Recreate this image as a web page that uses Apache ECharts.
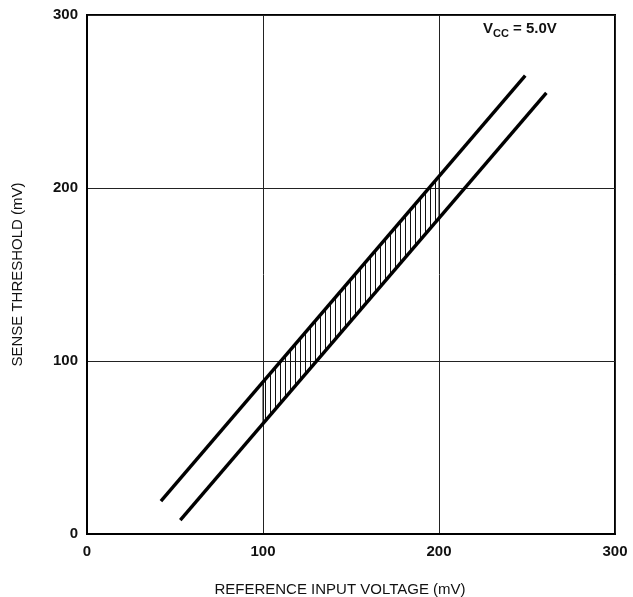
<!DOCTYPE html>
<html>
<head>
<meta charset="utf-8">
<script src="https://cdn.jsdelivr.net/npm/echarts@6/dist/echarts.min.js"></script>
<style>html,body{margin:0;padding:0;background:#fff}#c{width:633px;height:597px}</style>
</head>
<body>
<div id="c"></div>
<script>
// Data
const xTicks = [0, 100, 200, 300];
const yTicks = [0, 100, 200, 300];
const upperX = [42, 249];
const upperY = [19, 265];
const lowerX = [53, 261];
const lowerY = [8, 255];
const bandX = [100, 200];
const bandUpper = [88, 207];
const bandLower = [64, 183];

const upperData = upperX.map((x, i) => [x, upperY[i]]);
const lowerData = lowerX.map((x, i) => [x, lowerY[i]]);

// vertical hatch pattern
const pc = document.createElement('canvas');
pc.width = 5; pc.height = 10;
const pctx = pc.getContext('2d');
pctx.fillStyle = '#111';
pctx.fillRect(0, 0, 1, 10);

const chart = echarts.init(document.getElementById('c'), null, {renderer: 'canvas'});
const font = '"Liberation Sans", Arial, Helvetica, sans-serif';
chart.setOption({
  animation: false,
  backgroundColor: '#fff',
  grid: {left: 87, right: 18, top: 15, bottom: 63, containLabel: false, outerBoundsMode: 'none',
    show: true, borderColor: '#000', borderWidth: 2, backgroundColor: 'transparent'},
  xAxis: {
    type: 'value', min: 0, max: 300, interval: 100,
    name: 'REFERENCE INPUT VOLTAGE (mV)', nameLocation: 'middle', nameGap: 48,
    nameTextStyle: {fontFamily: font, fontSize: 15, color: '#111', padding: [0, 22, 0, 0]},
    axisLine: {show: true, lineStyle: {color: '#000', width: 2}},
    axisTick: {show: false},
    axisLabel: {fontFamily: font, fontSize: 15, fontWeight: 'bold', color: '#111', margin: 10,
      formatter: v => xTicks.includes(v) ? String(v) : ''},
    splitLine: {show: true, lineStyle: {color: '#222', width: 1}}
  },
  yAxis: {
    type: 'value', min: 0, max: 300, interval: 100,
    name: 'SENSE THRESHOLD (mV)', nameLocation: 'middle', nameGap: 62,
    nameTextStyle: {fontFamily: font, fontSize: 15, color: '#111'},
    axisLine: {show: true, lineStyle: {color: '#000', width: 2}},
    axisTick: {show: false},
    axisLabel: {fontFamily: font, fontSize: 15, fontWeight: 'bold', color: '#111', margin: 9,
      formatter: v => yTicks.includes(v) ? String(v) : ''},
    splitLine: {show: true, lineStyle: {color: '#222', width: 1}}
  },
  graphic: [{
    type: 'text', left: 483, top: 19, z: 100,
    style: {
      text: '{v|V}{s|CC}{v| = 5.0V}',
      rich: {
        v: {fontFamily: font, fontSize: 15, fontWeight: 'bold', fill: '#111', lineHeight: 17},
        s: {fontFamily: font, fontSize: 11, fontWeight: 'bold', fill: '#111', lineHeight: 17, padding: [9, 0, 0, 0]}
      }
    }
  }],
  series: [
    {
      type: 'custom', coordinateSystem: 'cartesian2d', data: [[bandX[0], bandLower[0]]], z: 1, silent: true,
      renderItem: function (params, api) {
        const pts = [
          api.coord([bandX[0], bandLower[0]]),
          api.coord([bandX[1], bandLower[1]]),
          api.coord([bandX[1], bandUpper[1]]),
          api.coord([bandX[0], bandUpper[0]])
        ];
        return {type: 'polygon', shape: {points: pts}, style: {fill: {image: pc, repeat: 'repeat'}, stroke: '#111', lineWidth: 1}};
      }
    },
    {type: 'line', data: upperData, symbol: 'none', lineStyle: {color: '#000', width: 3.4}, z: 3},
    {type: 'line', data: lowerData, symbol: 'none', lineStyle: {color: '#000', width: 3.4}, z: 3}
  ]
});
</script>
</body>
</html>
